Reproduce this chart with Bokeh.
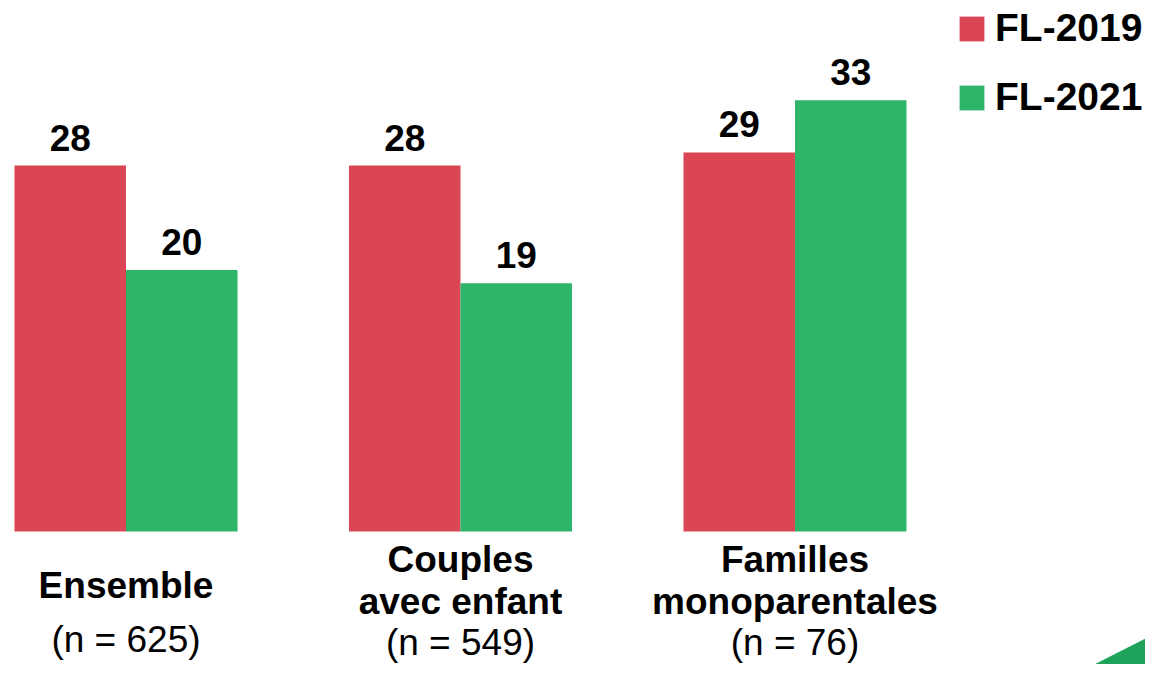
from bokeh.plotting import figure
from bokeh.models import ColumnDataSource, Range1d, Legend, LegendItem, LabelSet
from bokeh.transform import dodge
from bokeh.core.properties import value
from bokeh.embed import file_html
from bokeh.resources import INLINE

# ---- data ----
categories = ["Ensemble", "Couples\navec enfant", "Familles\nmonoparentales"]
n_labels = ["(n = 625)", "(n = 549)", "(n = 76)"]
series_names = ["FL-2019", "FL-2021"]
fl2019 = [28, 28, 29]
fl2021 = [20, 19, 33]

# ---- style ----
RED = "#db4654"
GREEN = "#2eb56a"
DARK_GREEN = "#1fa35a"
FONT_NAME = "Liberation Sans"
FONT = value(FONT_NAME)

W, H = 1145, 664
PX_X = 334.5          # px per category unit
PX_Y = 13.07          # px per value unit
X0_PX = 125.5         # px of first group centre
BASE_PX = 531         # px of bar bottom (from top)

x_start = -X0_PX / PX_X
y_top = BASE_PX / PX_Y

p = figure(width=W, height=H, output_backend="svg", toolbar_location=None,
           x_range=Range1d(x_start, x_start + W / PX_X),
           y_range=Range1d(y_top - H / PX_Y, y_top),
           min_border=0, background_fill_color="white", border_fill_color="white")
p.axis.visible = False
p.grid.visible = False
p.outline_line_color = None

idx = list(range(len(categories)))
src = ColumnDataSource(dict(x=idx, a=fl2019, b=fl2021,
                            la=[str(v) for v in fl2019], lb=[str(v) for v in fl2021]))

bw = 1 / 3
r1 = p.vbar(x=dodge("x", -bw / 2, range=p.x_range), top="a", width=bw, bottom=0,
            source=src, fill_color=RED, line_color=None)
r2 = p.vbar(x=dodge("x", bw / 2, range=p.x_range), top="b", width=bw, bottom=0,
            source=src, fill_color=GREEN, line_color=None)

for col, off in (("la", -bw / 2), ("lb", bw / 2)):
    ycol = "a" if col == "la" else "b"
    p.add_layout(LabelSet(x=dodge("x", off, range=p.x_range), y=ycol, text=col, source=src,
                          y_offset=15, text_align="center", text_baseline="alphabetic",
                          text_font=FONT, text_font_style="bold", text_font_size="37px",
                          text_color="black"))

# category labels below bars (positions in px below the bar baseline)
def to_y(px_below):
    return -px_below / PX_Y

bx, by, bt, nx, ny, nt = [], [], [], [], [], []
for i, (c, n) in enumerate(zip(categories, n_labels)):
    lines = c.split("\n")
    if len(lines) == 1:
        bx.append(i); by.append(to_y(54)); bt.append(lines[0])
        nx.append(i); ny.append(to_y(108)); nt.append(n)
    else:
        for k, ln in enumerate(lines):
            bx.append(i); by.append(to_y(28 + 42 * k)); bt.append(ln)
        nx.append(i); ny.append(to_y(111)); nt.append(n)

p.text(x=bx, y=by, text=bt, text_align="center", text_baseline="alphabetic",
       text_font=FONT, text_font_style="bold", text_font_size="37px", text_color="black")
p.text(x=nx, y=ny, text=nt, text_align="center", text_baseline="alphabetic",
       text_font=FONT, text_font_size="37px", text_color="black")

# decorative corner triangle (clipped by the canvas edge)
def sx(px):
    return x_start + px / PX_X

def sy(px):
    return y_top - px / PX_Y

p.patch([sx(1062), sx(1161), sx(1161)], [sy(680), sy(630), sy(680)],
        fill_color=DARK_GREEN, line_color=None)

legend = Legend(items=[LegendItem(label=series_names[0], renderers=[r1]),
                       LegendItem(label=series_names[1], renderers=[r2])],
                location=(956, H - 119), orientation="vertical",
                glyph_width=31, glyph_height=31, label_standoff=8, spacing=25,
                padding=0, margin=0, border_line_color=None, background_fill_alpha=0,
                label_text_font=FONT_NAME, label_text_font_style="bold",
                label_text_font_size="39px", label_text_color="black",
                label_height=25)
p.add_layout(legend)

open("out.html", "w").write(file_html(p, INLINE))
